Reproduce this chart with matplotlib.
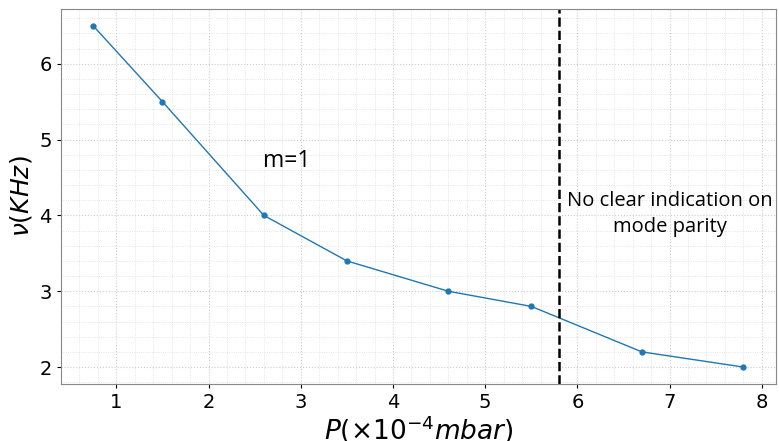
import matplotlib
matplotlib.use("Agg")
import matplotlib.pyplot as plt
from matplotlib.ticker import MultipleLocator

pressure = [0.75, 1.5, 2.6, 3.5, 4.6, 5.5, 6.7, 7.8]
frequency = [6.5, 5.5, 4.0, 3.4, 3.0, 2.8, 2.2, 2.0]
boundary = 5.8

fig = plt.figure(figsize=(7.79, 4.41), dpi=100)
ax = fig.add_axes([0.078, 0.129, 0.918, 0.851])
ax.plot(pressure, frequency, color="#1f77b4", lw=1, marker="o", ms=3.5)
ax.axvline(boundary, color="black", ls="--", lw=1.8)

ax.xaxis.set_major_locator(MultipleLocator(1))
ax.yaxis.set_major_locator(MultipleLocator(1))
ax.xaxis.set_minor_locator(MultipleLocator(0.2))
ax.yaxis.set_minor_locator(MultipleLocator(0.2))
ax.grid(which="major", color="#cccccc", lw=0.8, ls=":")
ax.grid(which="minor", color="#dddddd", lw=0.6, ls=":")
ax.set_axisbelow(True)
ax.tick_params(which="major", labelsize=14, length=3)
ax.tick_params(which="minor", length=0)
for s in ax.spines.values():
    s.set_color("#888888")

ax.set_xlabel(r"$P(\times10^{-4}mbar)$", fontsize=19, labelpad=1)
ax.set_ylabel(r"$\nu(KHz)$", fontsize=18, labelpad=4)

ax.text(2.85, 4.72, "m=1", fontsize=16.5, family="Open Sans", ha="center", va="center")
ax.text(7.0, 4.02, "No clear indication on\nmode parity", fontsize=14.5,
        family="Open Sans", ha="center", va="center", linespacing=1.45)

fig.savefig("out.png", dpi=100)
